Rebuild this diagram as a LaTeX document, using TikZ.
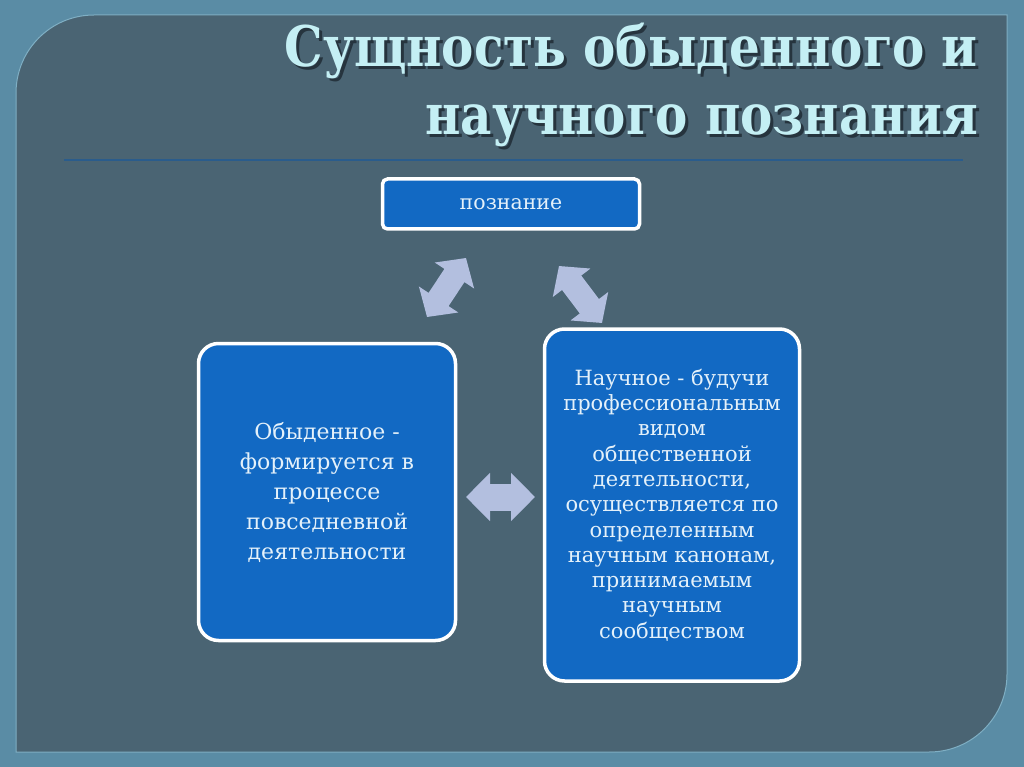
\documentclass[tikz,border=0pt]{standalone}
\usepackage{fontspec}
\setmainfont{DejaVu Serif}
\newfontfamily\titlefont[FakeStretch=0.865]{DejaVu Serif}
\usepackage{tikz}
\usetikzlibrary{arrows.meta}

\definecolor{framecol}{HTML}{5A8CA5}
\definecolor{panelcol}{HTML}{4A6473}
\definecolor{edgecol}{HTML}{7FAFC4}
\definecolor{rulecol}{HTML}{2A5C8C}
\definecolor{titlecol}{HTML}{C4EFF4}
\definecolor{shadowcol}{HTML}{26343E}
\definecolor{boxcol}{HTML}{1269C3}
\definecolor{boxtext}{HTML}{E4F1FA}
\definecolor{arrowcol}{HTML}{B3BFDF}

% title line with its drop shadow in one box
\newcommand{\shadowline}[1]{%
  \makebox[0pt][l]{\hspace{3pt}\raisebox{-3pt}{\textcolor{shadowcol}{#1}}}#1}

\tikzset{
  box/.style={draw=white, line width=3.5pt, fill=boxcol, text=boxtext,
    align=center, inner sep=0pt},
  titletext/.style={anchor=base east, text=titlecol, inner sep=0pt,
    font=\titlefont\bfseries\fontsize{56}{68}\selectfont},
  fatarrow/.style={draw=arrowcol, line width=24pt,
    arrows={Triangle[length=21pt,width=46pt]-Triangle[length=21pt,width=46pt]}},
  widearrow/.style={draw=arrowcol, line width=27pt,
    arrows={Triangle[length=24pt,width=47pt]-Triangle[length=24pt,width=47pt]}}
}

\begin{document}
\begin{tikzpicture}[x=1pt, y=-1pt]

  \useasboundingbox (0,0) rectangle (1024,767);

  % Background
  \fill[framecol] (0,0) rectangle (1024,767);
  \fill[panelcol] (16,752) -- (16,93) arc[start angle=180, end angle=270, radius=78]
    -- (1007,15) -- (1007,674) arc[start angle=0, end angle=90, radius=78] -- cycle;
  \draw[edgecol, line width=1pt] (16,752) -- (16,93) arc[start angle=180, end angle=270, radius=78]
    -- (1007,15) -- (1007,674) arc[start angle=0, end angle=90, radius=78] -- cycle;

  % Title
  \node[titletext] (t1) at (978,67) {\shadowline{Сущность обыденного и}};
  \node[titletext] (t2) at (978,135) {\shadowline{научного познания}};
  \coordinate (r1) at (64,160);
  \coordinate (r2) at (963,160);
  \draw[rulecol, line width=2.5pt] (r1) -- (r2);

  % Nodes
  \node[box, rounded corners=5pt, minimum width=257pt, minimum height=50pt,
    font=\fontsize{20.5}{24}\selectfont] (know) at (511,204) {познание};
  \node[box, rounded corners=20pt, minimum width=257pt, minimum height=297pt,
    font=\fontsize{22}{30}\selectfont] (daily) at (327,492)
    {Обыденное -\\формируется в\\процессе\\повседневной\\деятельности};
  \node[box, rounded corners=20pt, minimum width=255pt, minimum height=352pt,
    font=\fontsize{21}{25.3}\selectfont] (sci) at (672,505)
    {Научное - будучи\\профессиональным\\видом\\общественной\\деятельности,\\осуществляется по\\определенным\\научным канонам,\\принимаемым\\научным\\сообществом};

  % Edges
  \coordinate (a1) at (427,317);
  \coordinate (a2) at (466,258);
  \coordinate (b1) at (559,266);
  \coordinate (b2) at (602,323);
  \coordinate (c1) at (466,497);
  \coordinate (c2) at (535,497);
  \draw[fatarrow] (a1) -- (a2);
  \draw[fatarrow] (b1) -- (b2);
  \draw[widearrow] (c1) -- (c2);

\end{tikzpicture}
\end{document}
